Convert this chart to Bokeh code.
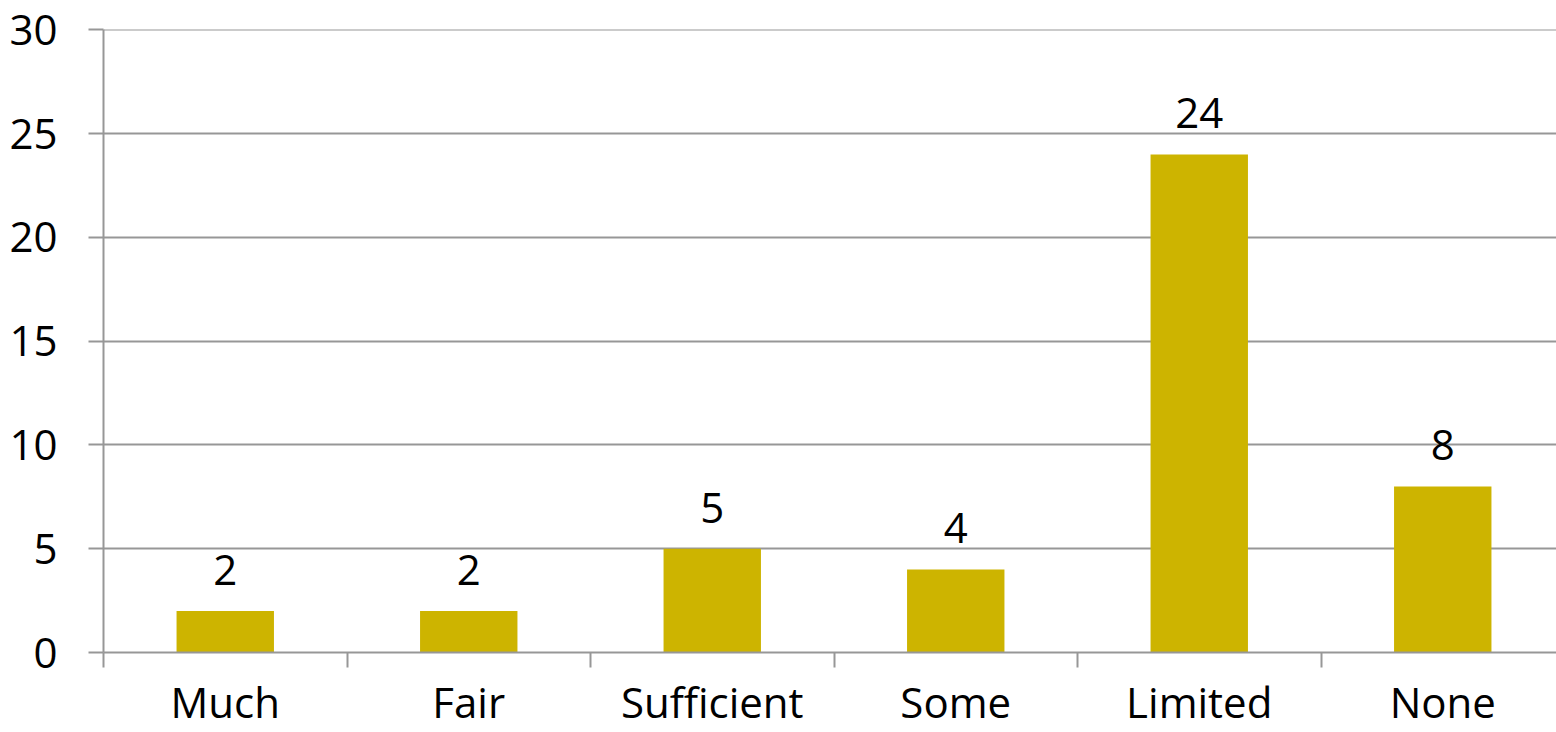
from bokeh.plotting import figure
from bokeh.models import Range1d, FixedTicker, ColumnDataSource
from bokeh.core.properties import value
from bokeh.embed import file_html
from bokeh.resources import INLINE

# Survey responses per category
categories = ["Much", "Fair", "Sufficient", "Some", "Limited", "None"]
counts = [2, 2, 5, 4, 24, 8]
y_ticks = [0, 5, 10, 15, 20, 25, 30]

FONT = "Open Sans"
GRID = "#979797"
BAR = "#CDB400"

centers = [i + 0.5 for i in range(len(categories))]
source = ColumnDataSource(dict(
    x=centers,
    top=counts,
    label=[str(c) for c in counts],
))

p = figure(
    width=1556, height=732,
    x_range=Range1d(0, 1453 / 243.5),
    y_range=Range1d(0, 30.02),
    output_backend="svg", toolbar_location=None,
    min_border_left=103, min_border_right=0,
    min_border_top=29, min_border_bottom=80,
)
p.outline_line_color = None
p.background_fill_color = "white"
p.border_fill_color = "white"

p.vbar(x="x", top="top", width=0.4, bottom=0, source=source,
       fill_color=BAR, line_color=None)

# value labels above the bars
p.text(x="x", y="top", text="label", source=source,
       text_align="center", text_baseline="alphabetic", y_offset=-41,
       text_font=value(FONT), text_font_size="42px", text_color="black")

# y axis
p.yaxis.ticker = FixedTicker(ticks=y_ticks)
p.yaxis.axis_line_color = GRID
p.yaxis.axis_line_width = 2
p.yaxis.major_tick_line_color = GRID
p.yaxis.major_tick_line_width = 2
p.yaxis.major_tick_in = 0
p.yaxis.major_tick_out = 15
p.yaxis.minor_tick_line_color = None
p.yaxis.major_label_standoff = 31
p.yaxis.major_label_text_font = FONT
p.yaxis.major_label_text_font_size = "42px"
p.yaxis.major_label_text_color = "black"

# x axis: names at category centres, tick marks at category boundaries
p.xaxis.ticker = FixedTicker(ticks=centers,
                             minor_ticks=list(range(len(categories) + 1)))
p.xaxis.major_label_overrides = {c: lab for c, lab in zip(centers, categories)}
p.xaxis.axis_line_color = GRID
p.xaxis.axis_line_width = 2
p.xaxis.major_tick_line_color = None
p.xaxis.major_tick_in = 0
p.xaxis.major_tick_out = 0
p.xaxis.minor_tick_line_color = GRID
p.xaxis.minor_tick_line_width = 2
p.xaxis.minor_tick_in = 0
p.xaxis.minor_tick_out = 15
p.xaxis.major_label_standoff = 5
p.xaxis.major_label_text_font = FONT
p.xaxis.major_label_text_font_size = "42px"
p.xaxis.major_label_text_color = "black"

p.xgrid.grid_line_color = None
p.ygrid.ticker = FixedTicker(ticks=y_ticks)
p.ygrid.grid_line_color = GRID
p.ygrid.grid_line_width = 2

open("out.html", "w").write(file_html(p, INLINE))
